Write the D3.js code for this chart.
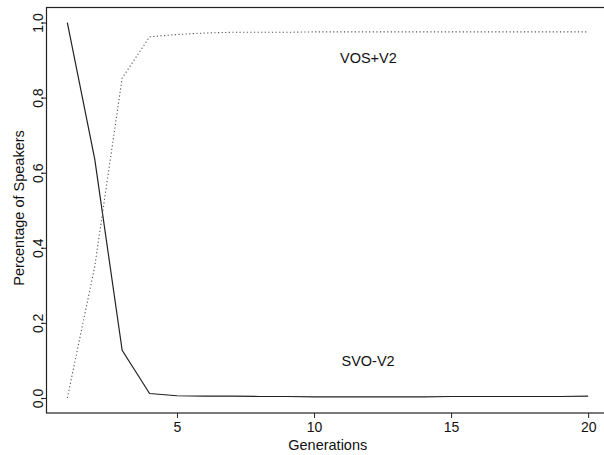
<!DOCTYPE html>
<html>
<head>
<meta charset="utf-8">
<script src="https://cdn.jsdelivr.net/npm/d3@7"></script>
<style>
  html, body { margin: 0; padding: 0; background: #fff; }
  svg { display: block; }
  text { font-family: "Liberation Sans", Arial, Helvetica, sans-serif; fill: #111; }
</style>
</head>
<body>
<svg id="chart" width="604" height="455"></svg>
<script>
// Generations 1..20 and the share of speakers for each grammar
const generations = d3.range(1, 21);
const svoV2 = [1.0, 0.636, 0.127, 0.012, 0.006, 0.005, 0.005, 0.004, 0.004, 0.003,
               0.003, 0.003, 0.003, 0.003, 0.004, 0.004, 0.004, 0.004, 0.004, 0.005];
const vosV2 = [0.0, 0.35, 0.852, 0.962, 0.968, 0.972, 0.974, 0.974, 0.974, 0.975,
               0.975, 0.975, 0.975, 0.975, 0.975, 0.975, 0.975, 0.975, 0.975, 0.975];
const xTicks = [5, 10, 15, 20];
const yTicks = [0.0, 0.2, 0.4, 0.6, 0.8, 1.0];

const svg = d3.select("#chart");
const FONT = "Liberation Sans, Arial, sans-serif";

const x = d3.scaleLinear().domain([0.24, 20.76]).range([46.5, 609]);
const y = d3.scaleLinear().domain([-0.04, 1.04]).range([413, 7.5]);

// plot frame
svg.append("rect")
  .attr("x", x(0.24)).attr("y", y(1.04))
  .attr("width", x(20.76) - x(0.24)).attr("height", y(-0.04) - y(1.04))
  .attr("fill", "none").attr("stroke", "#222").attr("stroke-width", 1.2);

// x axis
const xAxis = svg.append("g")
  .attr("transform", `translate(0,${y(-0.04)})`)
  .call(d3.axisBottom(x).tickValues(xTicks).tickSize(5).tickPadding(4).tickFormat(d3.format("d")));
xAxis.select(".domain").remove();
xAxis.selectAll("line").attr("stroke", "#222");
xAxis.selectAll("text").attr("font-size", 14).style("font-family", FONT).attr("fill", "#111");

// y axis, labels rotated
const yAxis = svg.append("g")
  .attr("transform", `translate(${x(0.24)},0)`)
  .call(d3.axisLeft(y).tickValues(yTicks).tickSize(5).tickFormat(d3.format(".1f")));
yAxis.select(".domain").remove();
yAxis.selectAll("line").attr("stroke", "#222");
yAxis.selectAll("text")
  .attr("font-size", 14)
  .style("font-family", FONT)
  .attr("fill", "#111")
  .attr("x", null).attr("dy", null)
  .attr("text-anchor", "middle")
  .attr("transform", "translate(-4,0) rotate(-90)");

// axis titles
svg.append("text")
  .attr("x", (x(0.24) + x(20.76)) / 2).attr("y", 450)
  .attr("text-anchor", "middle").attr("font-size", 14.5)
  .text("Generations");
svg.append("text")
  .attr("transform", `translate(23.5,208) rotate(-90)`)
  .attr("text-anchor", "middle").attr("font-size", 14.5)
  .text("Percentage of Speakers");

const line = d3.line().x((d, i) => x(generations[i])).y(d => y(d));

svg.append("path")
  .datum(svoV2)
  .attr("d", line)
  .attr("fill", "none").attr("stroke", "#222").attr("stroke-width", 1.2);

svg.append("path")
  .datum(vosV2)
  .attr("d", line)
  .attr("fill", "none").attr("stroke", "#555").attr("stroke-width", 1.1)
  .attr("stroke-dasharray", "1.2,2.4");

// series labels
svg.append("text")
  .attr("x", 340).attr("y", 63).attr("font-size", 14.5)
  .text("VOS+V2");
svg.append("text")
  .attr("x", 341.5).attr("y", 366).attr("font-size", 14.5)
  .text("SVO-V2");
</script>
</body>
</html>
